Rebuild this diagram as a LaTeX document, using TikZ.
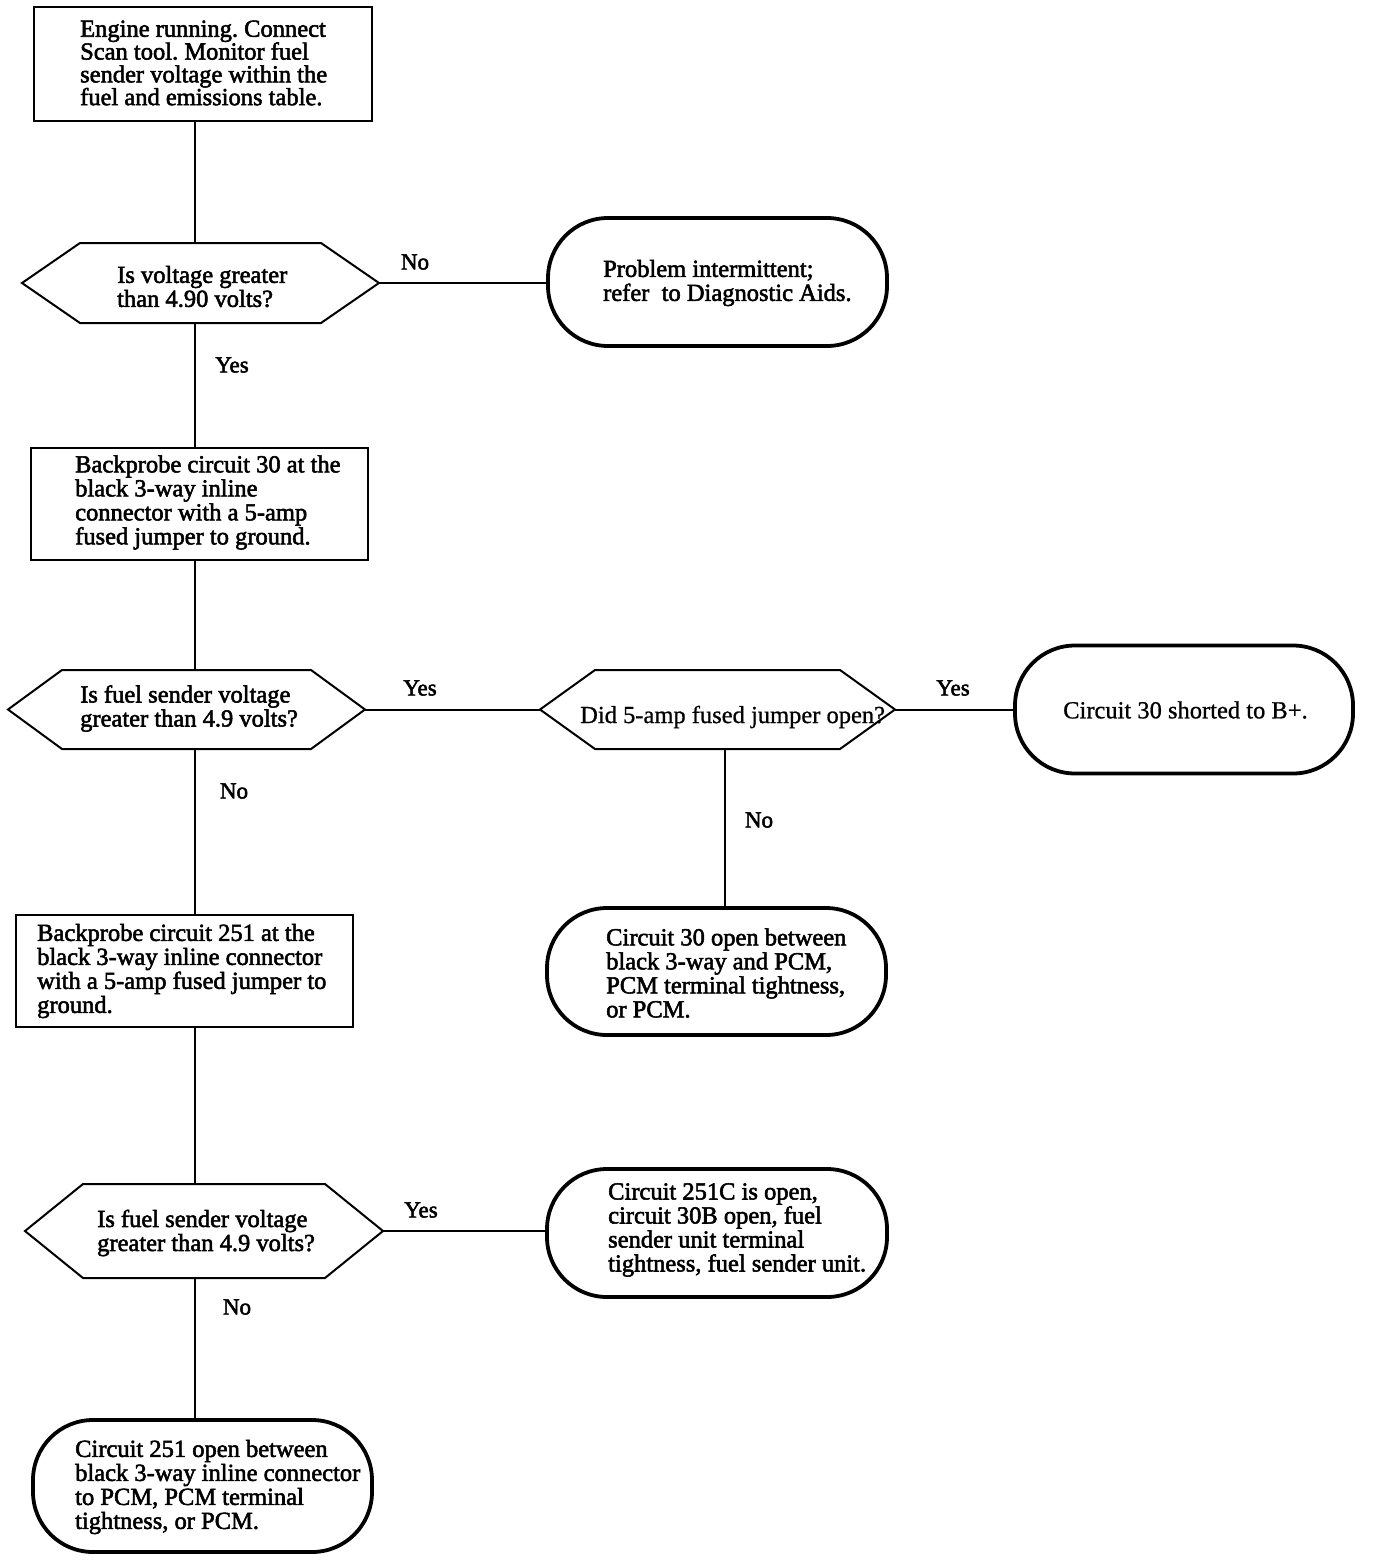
\documentclass[tikz,border=0pt]{standalone}
\usepackage{fontspec}
\setmainfont[FakeBold=2.2]{Liberation Serif}
\newfontfamily\narrowf[FakeBold=0.8]{Liberation Serif}
\newcommand\hexdraw[2]{\draw[hexline] (#1.west) -- ([xshift=#2]#1.north west) -- ([xshift=-#2]#1.north east) -- (#1.east) -- ([xshift=-#2]#1.south east) -- ([xshift=#2]#1.south west) -- cycle;}
\begin{document}
\frenchspacing
\begin{tikzpicture}[x=1pt,y=-1pt,
  box/.style={draw, line width=2pt, rectangle, inner sep=0pt, outer sep=0pt},
  term/.style={draw, line width=3.8pt, rectangle, rounded corners=60pt, inner sep=0pt, outer sep=0pt},
  hexbox/.style={rectangle, inner sep=0pt, outer sep=0pt},
  hexline/.style={line width=2pt, line join=miter},
  txt/.style={anchor=west, align=left, inner sep=0pt, font=\fontsize{24.5}{24}\selectfont},
  ntxt/.style={anchor=west, align=left, inner sep=0pt, font=\narrowf\fontsize{24.5}{25}\selectfont},
  lbl/.style={inner sep=0pt, font=\fontsize{23}{24}\selectfont},
  conn/.style={line width=2pt}]
\fill[white] (0,0) rectangle (1376,1560);
\useasboundingbox (0,0) rectangle (1376,1560);
\coordinate (spine) at (195,0);
\coordinate (rspine) at (725,0);

% shapes
\node[box, minimum width=338pt, minimum height=114pt] (b1) at (203,64) {};
\node[hexbox, minimum width=357pt, minimum height=80pt] (d1) at (200.5,283) {};
\hexdraw{d1}{58pt}
\node[term, minimum width=339pt, minimum height=128pt] (t1) at (717.5,282) {};
\node[box, minimum width=337pt, minimum height=112pt] (b2) at (199.5,504) {};
\node[hexbox, minimum width=357pt, minimum height=79pt] (d2) at (186.5,709.5) {};
\hexdraw{d2}{54pt}
\node[hexbox, minimum width=355pt, minimum height=79pt] (d3) at (717.5,709.5) {};
\hexdraw{d3}{55pt}
\node[term, minimum width=338pt, minimum height=128pt] (t2) at (1184,709.5) {};
\node[term, minimum width=339pt, minimum height=127pt] (t3) at (716.5,971.5) {};
\node[box, minimum width=337pt, minimum height=112pt] (b3) at (184.5,971) {};
\node[hexbox, minimum width=358pt, minimum height=94pt] (d4) at (204,1231) {};
\hexdraw{d4}{58pt}
\node[term, minimum width=340pt, minimum height=128pt] (t4) at (717,1233) {};
\node[term, minimum width=339pt, minimum height=132pt] (t5) at (202.5,1486) {};

% texts
\node[txt, font=\fontsize{24.5}{22.8}\selectfont] (b1t) at (80,63) {Engine running. Connect\\Scan tool. Monitor fuel\\sender voltage within the\\fuel and emissions table.};
\node[txt] (d1t) at (117,286.5) {Is voltage greater\\than 4.90 volts?};
\node[txt] (t1t) at (603,283) {Problem intermittent;\\refer\ \ to Diagnostic Aids.};
\node[txt] (b2t) at (75,502.5) {Backprobe circuit 30 at the\\black 3-way inline\\connector with a 5-amp\\fused jumper to ground.};
\node[txt] (d2t) at (80,708.5) {Is fuel sender voltage\\greater than 4.9 volts?};
\node[ntxt] (d3t) at (580,717) {Did 5-amp fused jumper open?};
\node[ntxt] (t2t) at (1063,710) {Circuit 30 shorted to B+.};
\node[txt] (t3t) at (606,973) {Circuit 30 open between\\black 3-way and PCM,\\PCM terminal tightness,\\or PCM.};
\node[txt] (b3t) at (37,971) {Backprobe circuit 251 at the\\black 3-way inline connector\\with a 5-amp fused jumper to\\ground.};
\node[txt] (d4t) at (97,1233) {Is fuel sender voltage\\greater than 4.9 volts?};
\node[txt] (t4t) at (608,1230) {Circuit 251C is open,\\circuit 30B open, fuel\\sender unit terminal\\tightness, fuel sender unit.};
\node[txt] (t5t) at (75,1487) {Circuit 251 open between\\black 3-way inline connector\\to PCM, PCM terminal\\tightness, or PCM.};

% connectors
\draw[conn] (b1.south -| spine) -- (d1.north -| spine);
\draw[conn] (d1.east) -- (d1.east -| t1.west);
\draw[conn] (d1.south -| spine) -- (b2.north -| spine);
\draw[conn] (b2.south -| spine) -- (d2.north -| spine);
\draw[conn] (d2.east) -- (d3.west);
\draw[conn] (d3.east) -- (t2.west);
\draw[conn] (d3.south -| rspine) -- (t3.north -| rspine);
\draw[conn] (d2.south -| spine) -- (b3.north -| spine);
\draw[conn] (b3.south -| spine) -- (d4.north -| spine);
\draw[conn] (d4.east) -- (d4.east -| t4.west);
\draw[conn] (d4.south -| spine) -- (t5.north -| spine);

% labels
\node[lbl] (l1) at (415,262) {No};
\node[lbl] (l2) at (232,365) {Yes};
\node[lbl] (l3) at (420,688) {Yes};
\node[lbl] (l4) at (234,791) {No};
\node[lbl] (l5) at (953,688) {Yes};
\node[lbl] (l6) at (759,820) {No};
\node[lbl] (l7) at (421,1210) {Yes};
\node[lbl] (l8) at (237,1307) {No};
\end{tikzpicture}
\end{document}
